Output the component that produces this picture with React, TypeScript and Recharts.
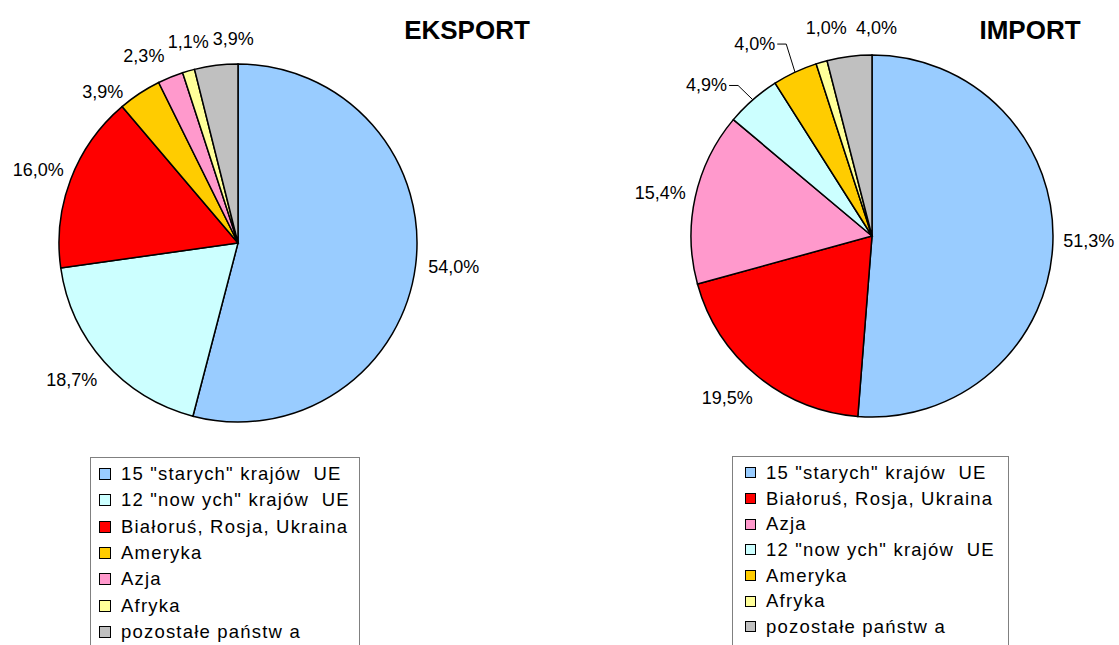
import { PieChart, Pie, Cell } from "recharts";

const exportNames = [
  '15 "starych" krajów  UE',
  '12 "now ych" krajów  UE',
  "Białoruś, Rosja, Ukraina",
  "Ameryka",
  "Azja",
  "Afryka",
  "pozostałe państw a",
];
const exportValues = [54.0, 18.7, 16.0, 3.9, 2.3, 1.1, 3.9];
const exportColors = ["#99CCFF", "#CCFFFF", "#FF0000", "#FFCC00", "#FF99CC", "#FFFF99", "#C0C0C0"];

const importNames = [
  '15 "starych" krajów  UE',
  "Białoruś, Rosja, Ukraina",
  "Azja",
  '12 "now ych" krajów  UE',
  "Ameryka",
  "Afryka",
  "pozostałe państw a",
];
const importValues = [51.3, 19.5, 15.4, 4.9, 4.0, 1.0, 4.0];
const importColors = ["#99CCFF", "#FF0000", "#FF99CC", "#CCFFFF", "#FFCC00", "#FFFF99", "#C0C0C0"];

// label placement tweaks (Excel moves the small ones around)
const exportNudge = [[0, -4], [-5, -7], [4, 4], [-20, 24], [-16, 5], [7, -4], [20, -3]];
const importNudge = [[-2, -4], [-7, -5], [3, 4], [-25, 10], [-28, -2], [12, -9], [30, -5]];
const importLeaders = [3, 4];

const FONT = '"Liberation Sans", Arial, sans-serif';
const RAD = Math.PI / 180;
const fmt = (v: number) => v.toFixed(1).replace(".", ",") + "%";
const textWidth = (s: string) => {
  let w = 0;
  for (const ch of s) w += ch === "," ? 0.278 : ch === "%" ? 0.889 : 0.556;
  return w * 18;
};

function makeLabel(nudge: number[][], leaders: number[]) {
  return (props: any) => {
    const { cx, cy, midAngle, outerRadius, index, value } = props;
    const c = Math.cos(-midAngle * RAD);
    const s = Math.sin(-midAngle * RAD);
    const text = fmt(value);
    const halfW = textWidth(text) / 2;
    const dist = outerRadius + 12 + halfW * Math.abs(c) + 9 * Math.abs(s);
    const x = cx + dist * c + nudge[index][0];
    const y = cy + dist * s + nudge[index][1];
    const ex = cx + outerRadius * c;
    const ey = cy + outerRadius * s;
    return (
      <g key={`lbl-${index}`}>
        {leaders.includes(index) && (
          <polyline
            points={`${x + halfW + 2},${y} ${x + halfW + 11},${y} ${ex},${ey}`}
            fill="none"
            stroke="#000"
            strokeWidth={1}
          />
        )}
        <text x={x} y={y} textAnchor="middle" dominantBaseline="central" fontSize={18} fontFamily={FONT} fill="#000">
          {text}
        </text>
      </g>
    );
  };
}

function LegendBox({ names, colors, left, width, top, rowH, marker, markerLeft, gap }: any) {
  return (
    <div
      style={{
        position: "absolute",
        left,
        top,
        width,
        height: 220,
        boxSizing: "border-box",
        border: "1.5px solid #808080",
        paddingTop: 3,
        fontFamily: FONT,
        fontSize: 18.5,
        letterSpacing: 1.2,
        background: "#fff",
      }}
    >
      {names.map((n: string, i: number) => (
        <div key={n} style={{ display: "flex", alignItems: "center", height: rowH, whiteSpace: "pre" }}>
          <div
            style={{
              width: marker,
              height: marker,
              marginLeft: markerLeft,
              marginRight: gap,
              boxSizing: "border-box",
              border: "1.5px solid #000",
              background: colors[i],
              flexShrink: 0,
            }}
          />
          <span>{n}</span>
        </div>
      ))}
    </div>
  );
}

export default function App() {
  const exportData = exportNames.map((name, i) => ({ name, value: exportValues[i] }));
  const importData = importNames.map((name, i) => ({ name, value: importValues[i] }));

  return (
    <div style={{ position: "absolute", left: 0, top: 0, width: 1119, height: 645, overflow: "hidden", background: "#fff" }}>
      <PieChart
        width={1119}
        height={645}
        margin={{ top: 0, right: 0, bottom: 0, left: 0 }}
        style={{ position: "absolute", left: 0, top: 0 }}
      >
        <Pie
          data={exportData}
          dataKey="value"
          nameKey="name"
          cx={238}
          cy={243}
          outerRadius={179}
          startAngle={90}
          endAngle={-270}
          stroke="#000"
          strokeWidth={1.5}
          label={makeLabel(exportNudge, [])}
          labelLine={false}
          isAnimationActive={false}
        >
          {exportData.map((d, i) => (
            <Cell key={d.name} fill={exportColors[i]} />
          ))}
        </Pie>
        <Pie
          data={importData}
          dataKey="value"
          nameKey="name"
          cx={872}
          cy={236}
          outerRadius={181}
          startAngle={90}
          endAngle={-270}
          stroke="#000"
          strokeWidth={1.5}
          label={makeLabel(importNudge, importLeaders)}
          labelLine={false}
          isAnimationActive={false}
        >
          {importData.map((d, i) => (
            <Cell key={d.name} fill={importColors[i]} />
          ))}
        </Pie>
      </PieChart>
      <svg width={1119} height={60} style={{ position: "absolute", left: 0, top: 0, pointerEvents: "none" }}>
        <text x={467} y={39} textAnchor="middle" fontFamily={FONT} fontWeight="bold" fontSize={26}>
          EKSPORT
        </text>
        <text x={1030} y={39} textAnchor="middle" fontFamily={FONT} fontWeight="bold" fontSize={26}>
          IMPORT
        </text>
      </svg>
      <LegendBox names={exportNames} colors={exportColors} left={90} width={270} top={457} rowH={26.3} marker={12} markerLeft={8} gap={10} />
      <LegendBox names={importNames} colors={importColors} left={732} width={277} top={456} rowH={25.7} marker={11} markerLeft={12} gap={10} />
    </div>
  );
}
